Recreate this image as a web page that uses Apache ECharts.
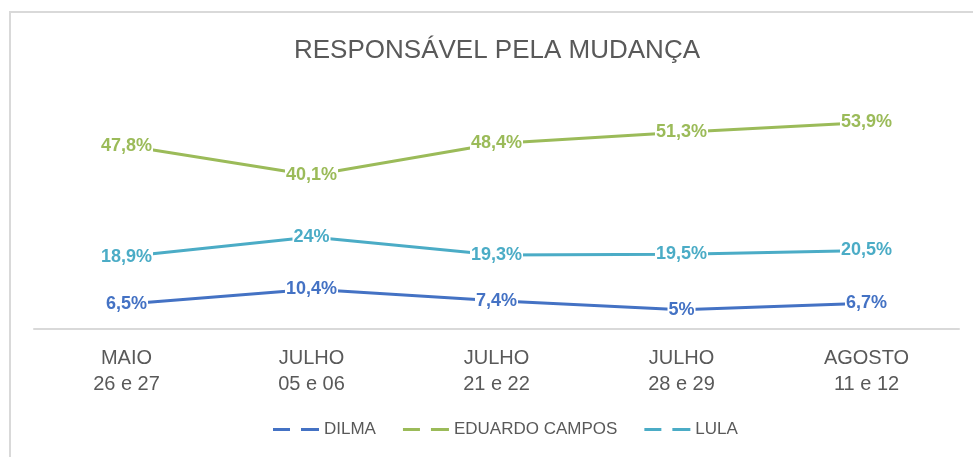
<!DOCTYPE html>
<html>
<head>
<meta charset="utf-8">
<title>Responsável pela mudança</title>
<script src="https://cdn.jsdelivr.net/npm/echarts@6/dist/echarts.min.js"></script>
<style>
  html, body { margin: 0; padding: 0; background: #fff; }
  #chart { width: 973px; height: 457px; }
</style>
</head>
<body>
<div id="chart"></div>
<script>
// categorias (mês + dias da pesquisa)
const categories = ['MAIO\n26 e 27', 'JULHO\n05 e 06', 'JULHO\n21 e 22', 'JULHO\n28 e 29', 'AGOSTO\n11 e 12'];

const dilma = [6.5, 10.4, 7.4, 5, 6.7];
const eduardoCampos = [47.8, 40.1, 48.4, 51.3, 53.9];
const lula = [18.9, 24, 19.3, 19.5, 20.5];

const seriesNames = ['DILMA', 'EDUARDO CAMPOS', 'LULA'];
const seriesColors = ['#4472C4', '#9BBB59', '#4BACC6'];

const FONT = '"Liberation Sans", Arial, sans-serif';

// 47,8% em vez de 47.8%
const fmtPct = (p) => String(p.value).replace('.', ',') + '%';

const makeSeries = (name, values, color) => ({
  name: name,
  type: 'line',
  data: values,
  // o rótulo precisa do símbolo; deixa ele invisível
  showSymbol: true,
  symbol: 'circle',
  symbolSize: 0.1,
  lineStyle: { color: color, width: 3 },
  itemStyle: { color: color },
  label: {
    show: true,
    position: 'inside',
    formatter: fmtPct,
    color: color,
    fontFamily: FONT,
    fontSize: 18,
    fontWeight: 'bold',
    backgroundColor: '#fff',
    padding: [0, 1],
  },
  emphasis: { disabled: true },
});

const chart = echarts.init(document.getElementById('chart'));

chart.setOption({
  animation: false,
  backgroundColor: '#fff',
  graphic: [
    {
      type: 'rect',
      shape: { x: 10, y: 12, width: 1000, height: 500 },
      style: { fill: 'none', stroke: '#d9d9d9', lineWidth: 2 },
      silent: true,
      z: -1,
    },
  ],
  title: {
    text: 'RESPONSÁVEL PELA MUDANÇA',
    left: 289,
    top: 33,
    textStyle: {
      fontFamily: FONT,
      fontSize: 26,
      fontWeight: 'normal',
      color: '#595959',
    },
  },
  legend: {
    data: seriesNames,
    left: 268,
    bottom: 14,
    icon: 'path://M0,0H17V3H0Z M28,0H46V3H28Z',
    itemWidth: 46,
    itemHeight: 3,
    itemGap: 27,
    textStyle: {
      fontFamily: FONT,
      fontSize: 17,
      color: '#595959',
    },
  },
  grid: {
    left: 34,
    right: 14,
    top: 99,
    bottom: 128,
  },
  xAxis: {
    type: 'category',
    data: categories,
    boundaryGap: true,
    axisLine: { lineStyle: { color: '#d9d9d9', width: 2 } },
    axisTick: { show: false },
    axisLabel: {
      interval: 0,
      margin: 16,
      fontFamily: FONT,
      fontSize: 20,
      lineHeight: 26,
      color: '#595959',
    },
  },
  yAxis: {
    type: 'value',
    min: 0,
    max: 60,
    show: false,
    splitLine: { show: false },
  },
  series: [
    makeSeries(seriesNames[0], dilma, seriesColors[0]),
    makeSeries(seriesNames[1], eduardoCampos, seriesColors[1]),
    makeSeries(seriesNames[2], lula, seriesColors[2]),
  ],
});
</script>
</body>
</html>
